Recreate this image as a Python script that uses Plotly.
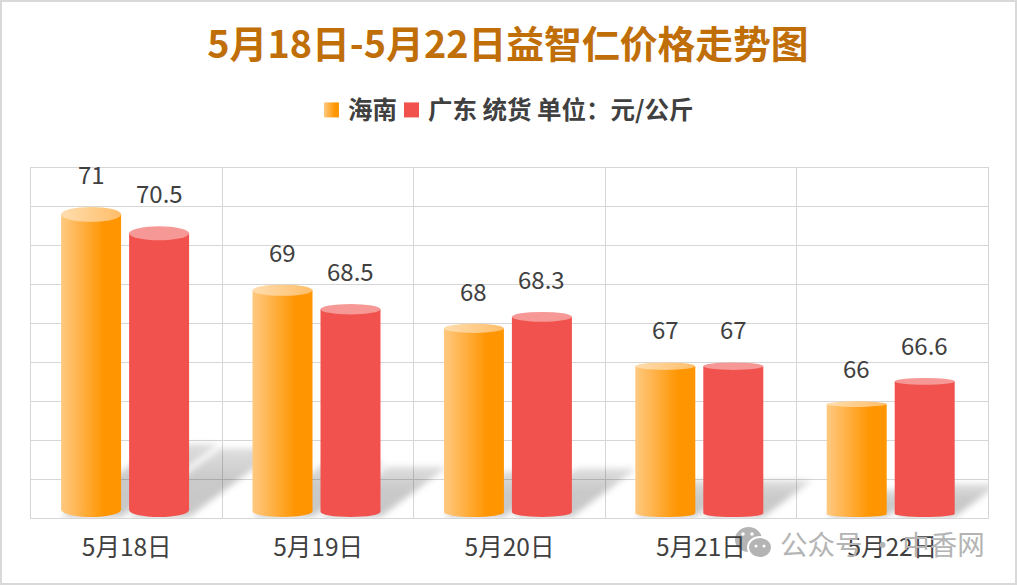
import plotly.graph_objects as go

categories = ["5月18日", "5月19日", "5月20日", "5月21日", "5月22日"]
hainan = [71, 69, 68, 67, 66]
guangdong = [70.5, 68.5, 68.3, 67, 66.6]
hainan_labels = ["71", "69", "68", "67", "66"]
guangdong_labels = ["70.5", "68.5", "68.3", "67", "66.6"]
name_a = "海南"
name_b = "广东 统货 单位：元/公斤"
title_text = "5月18日-5月22日益智仁价格走势图"
watermark = "公众号 · 中香网"

FONT = "Noto Sans CJK SC"
W, H = 1017, 585
L, R, T, B = 31, 988, 168, 518
PW, PH = R - L, B - T
cell = PW / 5


def px(x):
    return (x - L) / PW


def py(y):
    return (B - y) / PH


fig = go.Figure()
bar_w = 60 / cell
fig.add_bar(x=categories, y=hainan, name=name_a, width=bar_w, offset=-65.6 / cell,
            marker=dict(color="#FF9500", line=dict(width=0)))
fig.add_bar(x=categories, y=guangdong, name=name_b, width=bar_w, offset=2.4 / cell,
            marker=dict(color="#F1524D", line=dict(width=0)))

annotations = []
for cat, val, lab in zip(categories, hainan, hainan_labels):
    annotations.append(dict(x=cat, y=val, text=lab, showarrow=False, xshift=-35.6, yshift=14,
                            yanchor="bottom", font=dict(family=FONT, size=24, color="#404040")))
for cat, val, lab in zip(categories, guangdong, guangdong_labels):
    annotations.append(dict(x=cat, y=val, text=lab, showarrow=False, xshift=32.4, yshift=14,
                            yanchor="bottom", font=dict(family=FONT, size=24, color="#404040")))
annotations.append(dict(xref="paper", yref="paper", x=px(778), y=py(543), text=watermark, showarrow=False,
                        xanchor="left", yanchor="middle",
                        font=dict(family=FONT, size=27.5, color="#b4b4b4")))

shapes = [
    dict(type="rect", xref="paper", yref="paper", x0=px(1), x1=px(W - 1), y0=py(H - 1), y1=py(1),
         line=dict(color="#d9d9d9", width=2), layer="below"),
    dict(type="circle", xref="paper", yref="paper", x0=px(735), x1=px(762), y0=py(552), y1=py(527),
         fillcolor="#b4b4b4", line=dict(width=0), layer="below"),
    dict(type="circle", xref="paper", yref="paper", x0=px(748), x1=px(772), y0=py(558), y1=py(537),
         fillcolor="#b4b4b4", line=dict(color="#ffffff", width=2), layer="below"),
]
for cx, cy, r in [(743, 534, 1.8), (752, 534, 1.8), (756, 546, 1.5), (764, 546, 1.5)]:
    shapes.append(dict(type="circle", xref="paper", yref="paper", x0=px(cx - r), x1=px(cx + r),
                       y0=py(cy + r), y1=py(cy - r), fillcolor="#ffffff", line=dict(width=0), layer="below"))

fig.update_layout(
    width=W, height=H, autosize=False,
    margin=dict(l=L, r=W - R, t=T, b=H - B, pad=0),
    paper_bgcolor="#ffffff", plot_bgcolor="#ffffff",
    barmode="overlay",
    font=dict(family=FONT, color="#404040"),
    title=dict(text=title_text, x=508 / W, xanchor="center", y=1 - 45 / H, yanchor="middle",
               font=dict(family=FONT, size=37.8, color="#BF6E08", weight="bold")),
    legend=dict(orientation="h", x=508 / W, xref="container", xanchor="center", y=1 - 110 / H, yref="container",
                yanchor="middle", font=dict(family=FONT, size=24.5, color="#404040", weight="bold"),
                bgcolor="rgba(0,0,0,0)", traceorder="normal", itemclick=False),
    xaxis=dict(type="category", categoryorder="array", categoryarray=categories, tickson="boundaries",
               showgrid=True, gridcolor="#d6d6d6", gridwidth=1, ticks="", showline=True,
               linecolor="#d6d6d6", linewidth=1, mirror=True, ticklabelstandoff=8,
               tickfont=dict(family=FONT, size=24.5, color="#404040")),
    yaxis=dict(range=[63, 72], dtick=1, tick0=63, showgrid=True, gridcolor="#d6d6d6", gridwidth=1,
               showticklabels=False, ticks="", showline=True, linecolor="#d6d6d6", linewidth=1,
               mirror=True, zeroline=False),
    annotations=annotations, shapes=shapes,
)

post = r"""
document.body.style.margin = '0';
document.body.style.overflow = 'hidden';
var gd = document.getElementById('{plot_id}');
var NS = 'http://www.w3.org/2000/svg';
var svg = gd.querySelector('.main-svg');
var defs = svg.querySelector('defs');
function grad(id, stops, vertical) {
  var g = document.createElementNS(NS, 'linearGradient');
  g.setAttribute('id', id);
  g.setAttribute('x1', '0'); g.setAttribute('x2', vertical ? '0' : '1');
  g.setAttribute('y1', '0'); g.setAttribute('y2', vertical ? '1' : '0');
  stops.forEach(function(s) {
    var st = document.createElementNS(NS, 'stop');
    st.setAttribute('offset', s[0]); st.setAttribute('stop-color', s[1]);
    if (s[2] !== undefined) st.setAttribute('stop-opacity', s[2]);
    g.appendChild(st);
  });
  defs.appendChild(g);
}
grad('cylA', [[0, '#FFC981'], [0.72, '#FF9500'], [1, '#FF9500']]);
grad('capA', [[0, '#FFDDAE'], [1, '#FFBE69']]);
grad('shade', [[0, '#000000', 0.13], [0.45, '#000000', 0.21], [1, '#000000', 0.22]], true);
var blur = document.createElementNS(NS, 'filter');
blur.setAttribute('id', 'shBlur');
blur.setAttribute('x', '-20%'); blur.setAttribute('y', '-20%');
blur.setAttribute('width', '140%'); blur.setAttribute('height', '140%');
var fe = document.createElementNS(NS, 'feGaussianBlur');
fe.setAttribute('stdDeviation', '3.2');
blur.appendChild(fe); defs.appendChild(blur);
var sz = gd._fullLayout._size;
var clip = document.createElementNS(NS, 'clipPath');
clip.setAttribute('id', 'shClip');
var cr = document.createElementNS(NS, 'rect');
cr.setAttribute('x', 0); cr.setAttribute('y', 0);
cr.setAttribute('width', sz.w); cr.setAttribute('height', sz.h);
clip.appendChild(cr); defs.appendChild(clip);

var layer = gd.querySelector('.barlayer');
var shadowG = document.createElementNS(NS, 'g');
shadowG.setAttribute('clip-path', 'url(#shClip)');
layer.insertBefore(shadowG, layer.firstChild);
var traces = layer.querySelectorAll('.bars');
traces.forEach(function(tr, ti) {
  tr.querySelectorAll('.point path').forEach(function(p) {
    var b = p.getBBox();
    var x0 = b.x, x1 = b.x + b.width, y0 = b.y;
    var floor = Math.min(b.y + b.height, sz.h);
    var bh = floor - y0, y1 = floor - 1;
    var rx = b.width / 2, ryT = bh * 0.024, ryB = bh * 0.024;
    var h = bh * 0.235, dx = h / 0.75;
    var s = document.createElementNS(NS, 'path');
    s.setAttribute('d', 'M' + x0 + ',' + y1 + 'L' + (x0 + dx) + ',' + (y1 - h) + 'L' + (x1 + dx) + ',' + (y1 - h) + 'L' + x1 + ',' + y1 + 'Z');
    s.setAttribute('fill', 'url(#shade)');
    s.setAttribute('filter', 'url(#shBlur)');
    shadowG.appendChild(s);
    p.setAttribute('d', 'M' + x0 + ',' + (y0 + ryT) + 'L' + x0 + ',' + (y1 - ryB) +
      'A' + rx + ',' + ryB + ' 0 0 0 ' + x1 + ',' + (y1 - ryB) + 'L' + x1 + ',' + (y0 + ryT) + 'Z');
    if (ti === 0) p.style.fill = 'url(#cylA)';
    var c = document.createElementNS(NS, 'ellipse');
    c.setAttribute('cx', (x0 + x1) / 2); c.setAttribute('cy', y0 + ryT);
    c.setAttribute('rx', rx); c.setAttribute('ry', ryT);
    c.setAttribute('fill', ti === 0 ? 'url(#capA)' : '#F59896');
    p.parentNode.appendChild(c);
  });
});
var sb = gd.querySelector('.legend .scrollbox');
if (sb) sb.removeAttribute('clip-path');
var lgclip = gd.querySelector('.legend');
if (lgclip) lgclip.removeAttribute('clip-path');
var textLeft = [348, 428], swatchLeft = [324, 404];
var svgLeft = svg.getBoundingClientRect().left;
gd.querySelectorAll('.legend .traces').forEach(function(t, i) {
  var txt = t.querySelector('.legendtext');
  var tf = t.getAttribute('transform') || 'translate(0,0)';
  var m = tf.match(/translate\(([-\d.]+)[ ,]+([-\d.]+)\)/);
  var shift = textLeft[i] - (txt.getBoundingClientRect().left - svgLeft);
  t.setAttribute('transform', 'translate(' + (parseFloat(m[1]) + shift) + ',' + parseFloat(m[2]) + ')');
  var sw = t.querySelector('.legendpoints path');
  sw.setAttribute('d', 'M7.5,7.5H-7.5V-7.5H7.5Z');
  if (i === 0) sw.style.fill = 'url(#cylA)';
  var lp = t.querySelector('.legendpoints');
  lp.setAttribute('transform', 'translate(0,0)');
  var d = swatchLeft[i] - (sw.getBoundingClientRect().left - svgLeft);
  lp.setAttribute('transform', 'translate(' + d + ',0)');
});
var cart = svg.querySelector('.cartesianlayer');
svg.querySelectorAll('.infolayer .annotation').forEach(function(a) {
  if (a.textContent.indexOf('公众号') >= 0) cart.parentNode.insertBefore(a, cart);
});
"""

fig.write_html("out.html", post_script=post, config=dict(responsive=False, displayModeBar=False))
